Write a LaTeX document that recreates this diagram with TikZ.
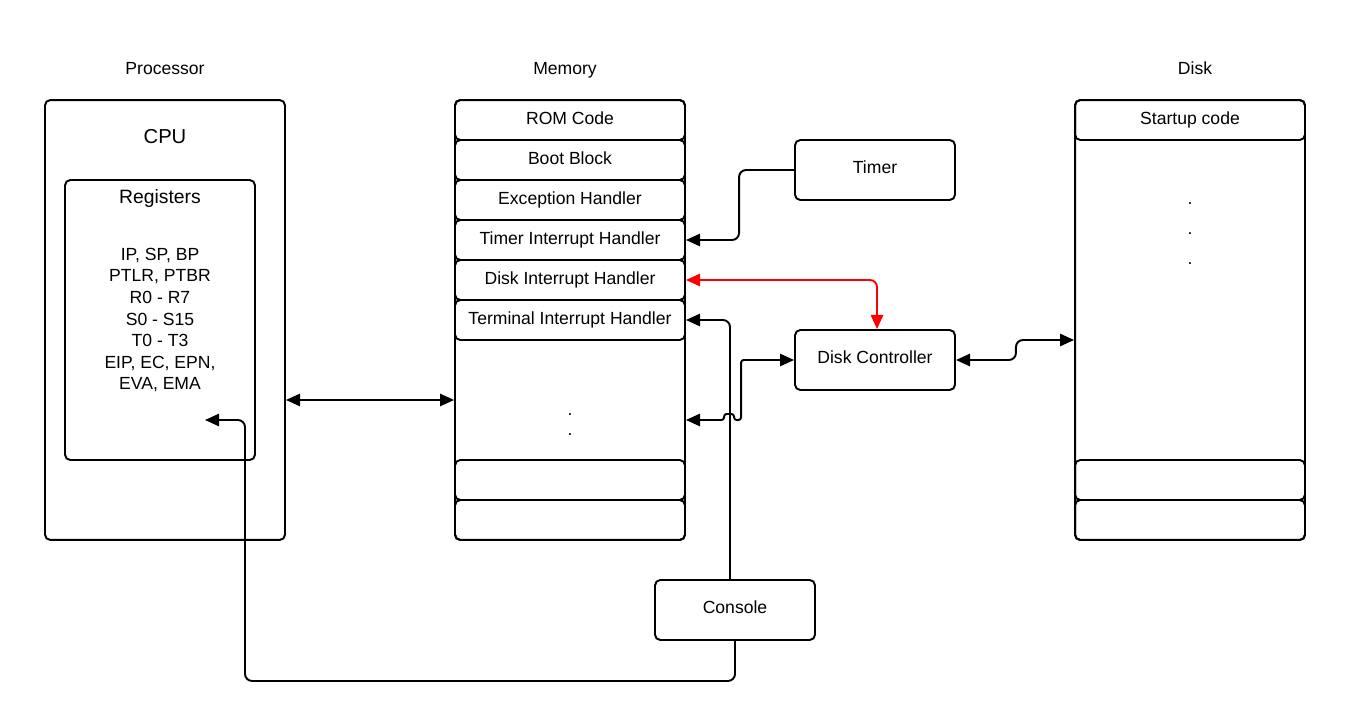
\documentclass[tikz,border=0pt]{standalone}
\usepackage{fontspec}
\setmainfont{Liberation Sans}
\usetikzlibrary{arrows.meta}
\tikzstyle{arrow} = [line width=1.1pt,->,>={Triangle[length=8pt,width=7pt]}]
\tikzstyle{box} = [draw,line width=1.1pt,rounded corners=3pt,inner sep=0pt]
\tikzstyle{row} = [box,minimum width=4.6cm,minimum height=0.8cm,text height=7.5pt,text depth=2.5pt]
\tikzstyle{unit} = [box,minimum width=3.2cm,minimum height=1.2cm,text height=7pt,text depth=3pt]
\tikzstyle{heading} = [text height=7.5pt,text depth=2.5pt]

\begin{document}
\begin{tikzpicture}[x=0.02cm,y=-0.02cm,every node/.style={font=\fontsize{10}{12.3}\selectfont}]
\useasboundingbox (0,0) rectangle (1355,720);

% --- Processor ---
\node[heading] (proctitle) at (165,70) {Processor};
\node[box,minimum width=4.8cm,minimum height=8.8cm] (proc) at (165,320) {};
\node[heading,font=\fontsize{11.5}{14}\selectfont] (cpu) at (165,139) {CPU};
\node[box,minimum width=3.8cm,minimum height=5.6cm] (regs) at (160,320) {};
\node[heading,font=\fontsize{11}{13}\selectfont] (regtitle) at (160,199) {Registers};
\node[align=center] (reglist) at (160,320) {IP, SP, BP\\PTLR, PTBR\\R0 - R7\\S0 - S15\\T0 - T3\\EIP, EC, EPN,\\EVA, EMA};
\coordinate (regin) at (205,420);

% --- Memory ---
\node[heading] (memtitle) at (565,70) {Memory};
\node[box,minimum width=4.6cm,minimum height=8.8cm] (mem) at (570,320) {};
\foreach \i/\txt in {0/ROM Code,1/Boot Block,2/Exception Handler,3/Timer Interrupt Handler,
  4/Disk Interrupt Handler,5/Terminal Interrupt Handler,9/,10/} {
  \node[row] (m\i) at (570,120+40*\i) {\txt};
}
\foreach \y in {415,435} {
  \node[anchor=base] (mdot\y) at (570,\y) {.};
}

% --- Disk ---
\node[heading] (disktitle) at (1195,70) {Disk};
\node[box,minimum width=4.6cm,minimum height=8.8cm] (disk) at (1190,320) {};
\node[row] (d0) at (1190,120) {Startup code};
\node[row] (d9) at (1190,480) {};
\node[row] (d10) at (1190,520) {};
\foreach \y in {204,234,264} {
  \node[anchor=base] (ddot\y) at (1190,\y) {.};
}

% --- Devices ---
\node[unit] (timer) at (875,170) {Timer};
\node[unit] (dctrl) at (875,360) {Disk Controller};
\node[unit] (console) at (735,610) {Console};

% connections
\draw[arrow,<->] ([yshift=-1.6cm]proc.east) -- ([yshift=-1.6cm]mem.west);
\draw[arrow,rounded corners=4pt] (timer.west) -- ++(-55,0) |- (m3.east);
\draw[arrow,<->,red,rounded corners=4pt] (m4.east) -| ([xshift=0.04cm]dctrl.north);
\draw[arrow,<->,rounded corners=4pt] (dctrl.east) -- ++(60,0) |- ([yshift=-0.4cm]disk.west);
\draw[arrow,rounded corners=4pt] ([xshift=-0.1cm]console.north) |- (m5.east);
\draw[arrow,<->,rounded corners=1.5pt] (dctrl.west) -| ++(-53,60) -- ++(-7,0)
  -- ++(0,-6) -- ++(-10,0) -- ++(0,6) -- ([yshift=-2cm]mem.east);
\draw[arrow,rounded corners=4pt] (console.south) -- ++(0,40) -| ([xshift=0.8cm]regin) -- (regin);

\end{tikzpicture}
\end{document}
